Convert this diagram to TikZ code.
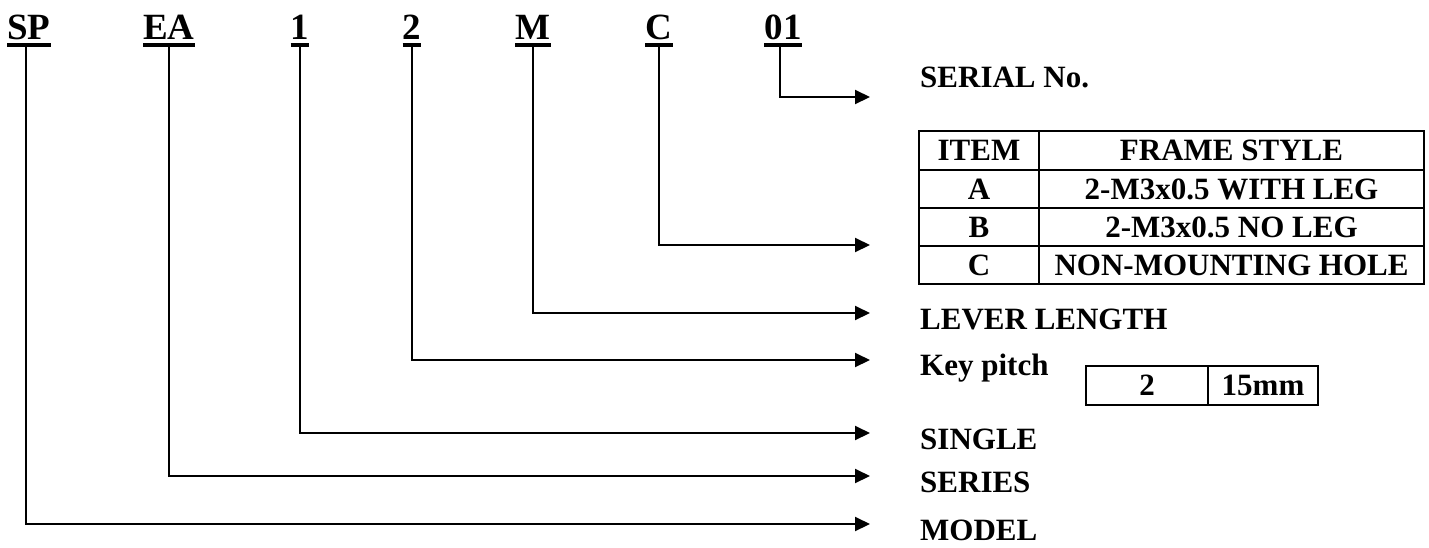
\documentclass[tikz,border=0pt]{standalone}
\usepackage{fontspec}
\setmainfont{Liberation Serif}
\usepackage{tikz}
\usetikzlibrary{arrows.meta}

\begin{document}
\begin{tikzpicture}[x=1pt,y=-1pt]
    \tikzstyle{code} = [inner sep=0pt, text depth=0pt, anchor=base, font=\fontsize{37}{40}\selectfont\bfseries];
    \tikzstyle{desc} = [inner sep=0pt, anchor=base west, font=\fontsize{31}{34}\selectfont\bfseries];
    \tikzstyle{cell} = [draw, line width=2pt, inner sep=0pt, minimum height=38pt, font=\fontsize{31}{35}\selectfont\bfseries];
    \tikzstyle{uline} = [draw, line width=4pt];
    \tikzstyle{line} = [draw, line width=2pt, -{Triangle[length=15pt,width=14pt]}];
    \useasboundingbox (0,0) rectangle (1429,547);
    % part number
    \node[code] (sp) at (29,39) {SP};
    \node[code] (ea) at (169,39) {EA};
    \node[code] (one) at (300,39) {1};
    \node[code] (two) at (412,39) {2};
    \node[code] (m) at (533,39) {M};
    \node[code] (c) at (659,39) {C};
    \node[code] (serial) at (783,39) {01};
    \path[uline] ([yshift=-6pt]sp.base west) -- ([yshift=-6pt]sp.base east);
    \path[uline] ([yshift=-6pt]ea.base west) -- ([yshift=-6pt]ea.base east);
    \path[uline] ([yshift=-6pt]one.base west) -- ([yshift=-6pt]one.base east);
    \path[uline] ([yshift=-6pt]two.base west) -- ([yshift=-6pt]two.base east);
    \path[uline] ([yshift=-6pt]m.base west) -- ([yshift=-6pt]m.base east);
    \path[uline] ([yshift=-6pt]c.base west) -- ([yshift=-6pt]c.base east);
    \path[uline] ([yshift=-6pt]serial.base west) -- ([yshift=-6pt]serial.base east);
    % descriptions
    \node[desc] (lserial) at (920,87) {SERIAL No.};
    \node[desc] (llever) at (920,329) {LEVER LENGTH};
    \node[desc] (lpitch) at (920,375) {Key pitch};
    \node[desc] (lsingle) at (920,449) {SINGLE};
    \node[desc] (lseries) at (920,492) {SERIES};
    \node[desc] (lmodel) at (920,540) {MODEL};
    % frame style table
    \node[cell, minimum width=120pt, minimum height=39pt] (item) at (979,150.5) {ITEM};
    \node[cell, minimum width=385pt, minimum height=39pt] (frame) at (1231.5,150.5) {FRAME STYLE};
    \node[cell, minimum width=120pt] (ia) at (979,189) {A};
    \node[cell, minimum width=385pt] (fa) at (1231.5,189) {2-M3x0.5 WITH LEG};
    \node[cell, minimum width=120pt] (ib) at (979,227) {B};
    \node[cell, minimum width=385pt] (fb) at (1231.5,227) {2-M3x0.5 NO LEG};
    \node[cell, minimum width=120pt] (ic) at (979,265) {C};
    \node[cell, minimum width=385pt] (fc) at (1231.5,265) {NON-MOUNTING HOLE};
    % key pitch table
    \node[cell, minimum width=122pt, minimum height=39pt] (pcode) at (1147,385.5) {2};
    \node[cell, minimum width=110pt, minimum height=39pt] (pval) at (1263,385.5) {15mm};
    % arrows
    \coordinate (tserial) at (870,97);
    \coordinate (tframe) at (870,245);
    \coordinate (tlever) at (870,313);
    \coordinate (tpitch) at (870,360);
    \coordinate (tsingle) at (870,433);
    \coordinate (tseries) at (870,476);
    \coordinate (tmodel) at (870,524);
    \path[line] ([xshift=-3pt,yshift=-8pt]serial.base) |- (tserial);
    \path[line] ([yshift=-8pt]c.base) |- (tframe);
    \path[line] ([yshift=-8pt]m.base) |- (tlever);
    \path[line] ([yshift=-8pt]two.base) |- (tpitch);
    \path[line] ([yshift=-8pt]one.base) |- (tsingle);
    \path[line] ([yshift=-8pt]ea.base) |- (tseries);
    \path[line] ([xshift=-3pt,yshift=-8pt]sp.base) |- (tmodel);
\end{tikzpicture}
\end{document}
